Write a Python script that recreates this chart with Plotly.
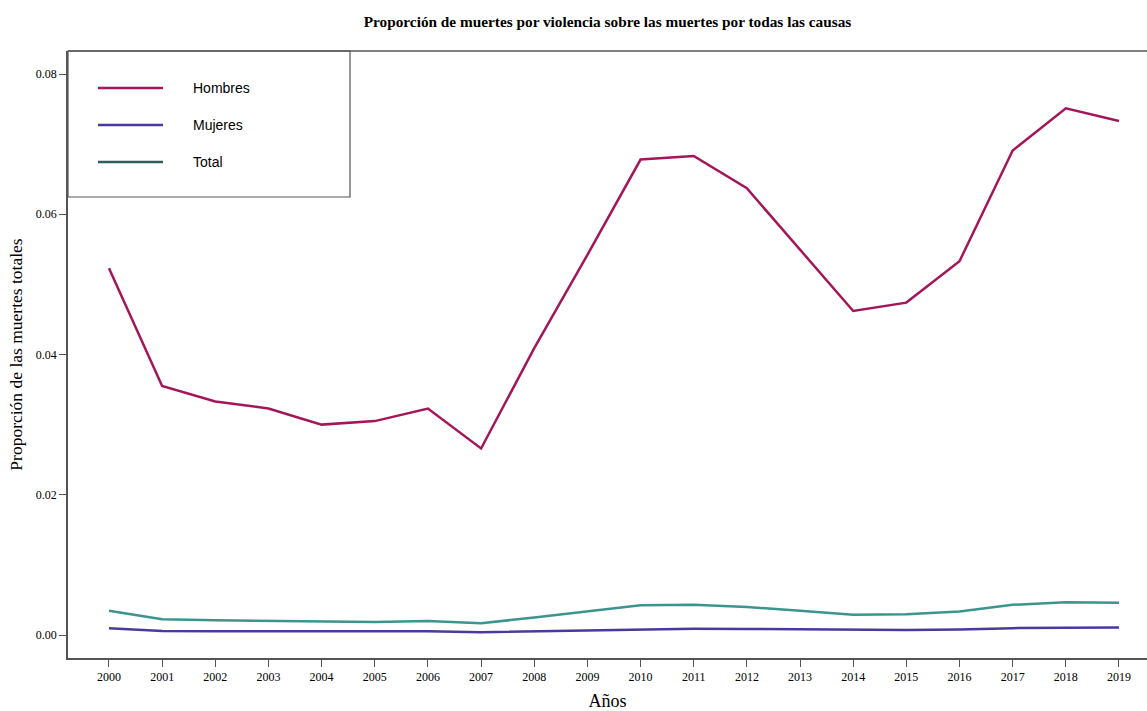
import plotly.graph_objects as go

years = list(range(2000, 2020))
hombres = [0.0523, 0.0355, 0.0333, 0.0323, 0.0300, 0.0305, 0.0323, 0.0266, 0.0409, 0.0542,
           0.0678, 0.0683, 0.0637, 0.0549, 0.0462, 0.0474, 0.0533, 0.0691, 0.0751, 0.0733]
mujeres = [0.00095, 0.00057, 0.00054, 0.00054, 0.00052, 0.00052, 0.00052, 0.00040, 0.00052, 0.00066,
           0.00080, 0.00088, 0.00087, 0.00080, 0.00070, 0.00070, 0.00078, 0.00098, 0.00104, 0.00106]
total = [0.00347, 0.00224, 0.00210, 0.00200, 0.00185, 0.00185, 0.00200, 0.00167, 0.00250, 0.00335,
         0.00424, 0.00430, 0.00400, 0.00345, 0.00290, 0.00295, 0.00335, 0.00430, 0.00466, 0.00460]
series_names = ["Hombres", "Mujeres", "Total"]
line_colors = ["#A3175A", "#4B3A9C", "#3C948E"]
legend_colors = ["#A3175A", "#4B3A9C", "#2F5E5A"]
ytick_vals = [0.00, 0.02, 0.04, 0.06, 0.08]

fig = go.Figure()
for name, vals, col in zip(series_names, [hombres, mujeres, total], line_colors):
    fig.add_trace(go.Scatter(x=years, y=vals, mode="lines", name=name,
                             line=dict(color=col, width=2.5), showlegend=False))

serif = "Liberation Serif, Times New Roman, serif"
fig.update_layout(
    width=1147, height=711,
    margin=dict(l=68, r=0, t=51, b=53),
    paper_bgcolor="white", plot_bgcolor="white",
    title=dict(text="<b>Proporción de muertes por violencia sobre las muertes por todas las causas</b>",
               x=0.5, xref="paper", y=0.97, yref="container", yanchor="middle",
               font=dict(family=serif, size=15.3, color="black")),
    xaxis=dict(range=[1999.229, 2019.527], tickvals=years, ticktext=[str(y) for y in years],
               showgrid=False, zeroline=False, showline=True, linecolor="#555", linewidth=1.5,
               ticks="outside", ticklen=7, tickcolor="#555", tickfont=dict(family=serif, size=12, color="black"),
               title=dict(text="Años", font=dict(family=serif, size=18, color="black"), standoff=15)),
    yaxis=dict(range=[-0.00328, 0.08328], tickvals=ytick_vals, ticktext=["%.2f" % v for v in ytick_vals],
               showgrid=False, zeroline=False, showline=True, linecolor="#555", linewidth=1.5,
               ticks="outside", ticklen=7, tickcolor="#555", tickfont=dict(family=serif, size=12, color="black"),
               title=dict(text="Proporción de las muertes totales", font=dict(family=serif, size=17.5, color="black"), standoff=9)),
)

# top frame line
fig.add_shape(type="line", xref="paper", yref="paper", x0=0, x1=1.05, y0=1, y1=1,
              line=dict(color="#555", width=1.5))

# manual legend box
lx1 = (350 - 68) / 1079
ly0 = (658 - 197) / 607
fig.add_shape(type="rect", xref="paper", yref="paper", x0=0, x1=lx1, y0=ly0, y1=1,
              line=dict(color="#555", width=1.2), fillcolor="rgba(0,0,0,0)")
for i, (name, col) in enumerate(zip(series_names, legend_colors)):
    ypx = 88 + 37 * i
    yp = (658 - ypx) / 607
    fig.add_shape(type="line", xref="paper", yref="paper",
                  x0=(98 - 68) / 1079, x1=(163 - 68) / 1079, y0=yp, y1=yp,
                  line=dict(color=col, width=2.5))
    fig.add_annotation(xref="paper", yref="paper", x=(191 - 68) / 1079, y=yp, text=name,
                       showarrow=False, xanchor="left", yanchor="middle",
                       font=dict(family="Liberation Sans, Arial, sans-serif", size=14, color="black"))

fig.write_html("out.html")
